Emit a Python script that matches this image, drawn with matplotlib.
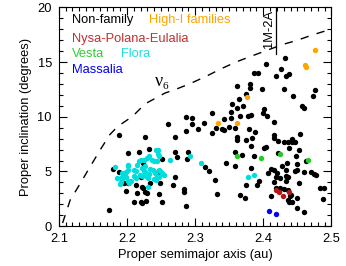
import matplotlib
matplotlib.use("Agg")
import matplotlib.pyplot as plt
from matplotlib.ticker import MultipleLocator

plt.rcParams['font.family'] = ['Liberation Sans', 'DejaVu Sans']

# non-family asteroids (proper a [au], proper i [deg])
nonfam_a = [2.404, 2.432, 2.426, 2.418, 2.437, 2.434, 2.386, 2.392, 2.380, 2.380,
            2.398, 2.362, 2.430, 2.374, 2.443, 2.476, 2.473, 2.365, 2.354, 2.457,
            2.460, 2.370, 2.361, 2.401, 2.399, 2.406, 2.366, 2.378, 2.382, 2.325,
            2.352, 2.353, 2.287, 2.296, 2.296, 2.313, 2.343, 2.415, 2.286, 2.304,
            2.325, 2.330, 2.339, 2.342, 2.349, 2.359, 2.379, 2.388, 2.362, 2.361,
            2.374, 2.383, 2.382, 2.290, 2.288, 2.358, 2.387, 2.314, 2.321, 2.346,
            2.358, 2.382, 2.273, 2.329, 2.332, 2.284, 2.283, 2.287, 2.369, 2.393,
            2.391, 2.375, 2.366, 2.373, 2.404, 2.401, 2.407, 2.411, 2.416, 2.420,
            2.418, 2.424, 2.428, 2.435, 2.434, 2.434, 2.436, 2.433, 2.415, 2.452,
            2.450, 2.448, 2.446, 2.450, 2.459, 2.422, 2.430, 2.436, 2.442, 2.447,
            2.442, 2.438, 2.452, 2.454, 2.415, 2.416, 2.422, 2.462, 2.470, 2.474,
            2.477, 2.483, 2.489, 2.488, 2.412, 2.418, 2.424, 2.431, 2.436, 2.439,
            2.440, 2.436, 2.437, 2.442, 2.449, 2.450, 2.460,
            2.174, 2.179, 2.189, 2.201, 2.218, 2.232, 2.189, 2.227, 2.260, 2.270,
            2.270, 2.251, 2.224, 2.196, 2.202, 2.198, 2.213, 2.214, 2.222, 2.223,
            2.210, 2.220, 2.222, 2.228, 2.226, 2.229, 2.234, 2.247, 2.248, 2.251,
            2.267, 2.271, 2.221, 2.245]
nonfam_i = [14.86, 15.34, 14.36, 13.72, 13.95, 13.75, 13.99, 13.99, 13.01, 12.61,
            12.57, 12.83, 12.57, 12.11, 11.94, 12.41, 11.86, 11.59, 11.21, 11.03,
            10.80, 10.98, 10.78, 10.72, 10.34, 10.11, 10.03, 10.07, 10.17, 10.37,
            10.43, 9.86, 10.00, 9.86, 9.36, 9.47, 9.77, 9.52, 8.73, 8.87,
            8.50, 8.99, 8.87, 8.76, 9.02, 8.94, 8.87, 8.65, 8.19, 7.89,
            7.83, 8.05, 7.34, 6.81, 6.13, 6.76, 6.42, 5.39, 5.03, 5.73,
            5.50, 5.28, 6.28, 4.24, 2.94, 3.35, 3.12, 1.83, 6.49, 4.10,
            3.76, 3.74, 2.84, 2.54, 7.23, 7.13, 4.86, 5.23, 5.09, 4.83,
            4.52, 4.43, 5.50, 5.73, 5.14, 4.61, 4.52, 4.16, 4.01, 3.90,
            5.69, 6.38, 5.07, 5.14, 4.98, 7.80, 7.66, 7.66, 7.66, 7.66,
            7.98, 7.16, 6.97, 8.41, 8.35, 8.10, 6.70, 5.96, 4.95, 4.77,
            4.63, 3.47, 3.47, 2.52, 2.71, 3.46, 3.46, 3.39, 3.28, 2.72,
            2.89, 2.39, 2.17, 2.23, 2.54, 1.68, 1.31,
            1.47, 5.23, 4.93, 6.68, 6.81, 7.06, 8.35, 8.17, 9.36, 8.14,
            6.76, 6.15, 5.81, 3.94, 3.97, 3.17, 3.76, 3.07, 3.58, 3.53,
            2.17, 2.23, 2.08, 2.32, 3.12, 3.06, 3.94, 2.94, 3.97, 2.17,
            3.76, 4.52, 4.47, 4.98]

# Flora family
flora_a = [2.183, 2.192, 2.194, 2.198, 2.186, 2.191, 2.193, 2.196, 2.199, 2.191,
           2.202, 2.190, 2.201, 2.202, 2.210, 2.213, 2.215, 2.218, 2.220, 2.222,
           2.226, 2.230, 2.232, 2.237, 2.239, 2.244, 2.242, 2.245, 2.246, 2.247,
           2.219, 2.222, 2.225, 2.227, 2.232, 2.234, 2.238, 2.241, 2.244, 2.247,
           2.228, 2.231, 2.239, 2.242, 2.251, 2.255, 2.247, 2.249, 2.210, 2.213,
           2.206, 2.203, 2.231, 2.263, 2.201, 2.225,
           2.293, 2.308, 2.377, 2.387]
flora_i = [5.39, 4.86, 4.77, 4.93, 4.40, 4.40, 4.34, 4.56, 4.50, 4.01,
           4.10, 3.85, 5.48, 5.60, 5.17, 5.02, 5.62, 5.94, 6.08, 5.32,
           5.53, 6.24, 6.39, 6.06, 5.94, 5.94, 7.00, 6.93, 6.63, 6.39,
           4.71, 4.61, 5.02, 4.93, 4.80, 5.23, 5.11, 4.86, 4.61, 4.47,
           4.56, 4.40, 4.31, 4.25, 4.86, 4.71, 5.17, 5.02, 4.56, 4.40,
           4.10, 3.94, 3.61, 6.03, 5.09, 6.06,
           6.40, 5.73, 4.50, 4.70]

vesta_a = [2.362, 2.396, 2.425, 2.466]
vesta_i = [6.42, 6.24, 6.63, 6.06]

nysa_a = [2.419, 2.423, 2.429, 2.437]
nysa_i = [3.30, 3.09, 2.71, 3.09]

massalia_a = [2.409, 2.419]
massalia_i = [1.42, 1.15]

highi_a = [2.476, 2.461, 2.463, 2.376, 2.334, 2.362]
highi_i = [16.13, 14.74, 14.56, 11.79, 9.39, 9.45]

# nu6 secular resonance
nu6_a = [2.1055, 2.1167, 2.131, 2.1457, 2.1616, 2.1746, 2.1862, 2.208, 2.2268,
         2.2558, 2.2703, 2.2906, 2.3152, 2.3384, 2.3616, 2.3848, 2.4283, 2.45,
         2.4717, 2.4978]
nu6_i = [0.28, 2.39, 3.85, 5.41, 7.06, 8.35, 9.11, 10.03, 11.19, 12.17, 12.48,
         12.98, 13.67, 14.40, 15.05, 15.60, 16.61, 17.0, 17.48, 17.98]

res_a = 2.418  # 1M-2A resonance

fig = plt.figure(figsize=(3.46, 2.66), dpi=100)
ax = fig.add_axes([0.170, 0.150, 0.788, 0.822])

ax.plot(nu6_a, nu6_i, color='k', lw=1.0, ls=(0, (6, 6)))
ax.plot([res_a, res_a], [15.7, 20], color='k', lw=0.9)

ms = 15
ax.scatter(nonfam_a, nonfam_i, s=ms, color='k', lw=0)
ax.scatter(flora_a, flora_i, s=ms, color='#00dddd', lw=0)
ax.scatter(vesta_a, vesta_i, s=ms, color='#22cc22', lw=0)
ax.scatter(nysa_a, nysa_i, s=ms, color='#b01818', lw=0)
ax.scatter(massalia_a, massalia_i, s=ms, color='#0000ff', lw=0)
ax.scatter(highi_a, highi_i, s=ms, color='#ffa500', lw=0)

fs = 9.3
ax.text(2.1195, 18.85, 'Non-family', color='k', fontsize=fs, va='center')
ax.text(2.2325, 18.85, 'High-I families', color='#ffa500', fontsize=fs, va='center')
ax.text(2.1195, 17.15, 'Nysa-Polana-Eulalia', color='#c03030', fontsize=fs, va='center')
ax.text(2.1195, 15.75, 'Vesta', color='#33cc33', fontsize=fs, va='center')
ax.text(2.1915, 15.75, 'Flora', color='#22dddd', fontsize=fs, va='center')
ax.text(2.1195, 14.25, 'Massalia', color='#0000ff', fontsize=fs, va='center')

ax.text(2.409, 18.0, '1M-2A', rotation=90, fontsize=fs, ha='center', va='center')
ax.text(2.241, 13.2, '\u03bd', family='Liberation Serif', fontsize=13,
        ha='left', va='center')
ax.text(2.2515, 12.75, '6', family='Liberation Serif', fontsize=8,
        ha='left', va='center')

ax.set_xlim(2.1, 2.5)
ax.set_ylim(0, 20)
ax.xaxis.set_major_locator(MultipleLocator(0.1))
ax.xaxis.set_minor_locator(MultipleLocator(0.01))
ax.yaxis.set_major_locator(MultipleLocator(5))
ax.yaxis.set_minor_locator(MultipleLocator(1))
ax.tick_params(which='both', direction='in', top=True, right=True,
               labelsize=fs, width=0.8)
ax.tick_params(which='major', length=6, pad=5)
ax.tick_params(which='minor', length=3)
for sp in ax.spines.values():
    sp.set_linewidth(0.8)

ax.set_xlabel('Proper semimajor axis (au)', fontsize=fs, labelpad=3)
ax.set_ylabel('Proper inclination (degrees)', fontsize=fs, labelpad=4)

fig.savefig('out.png', dpi=100)
